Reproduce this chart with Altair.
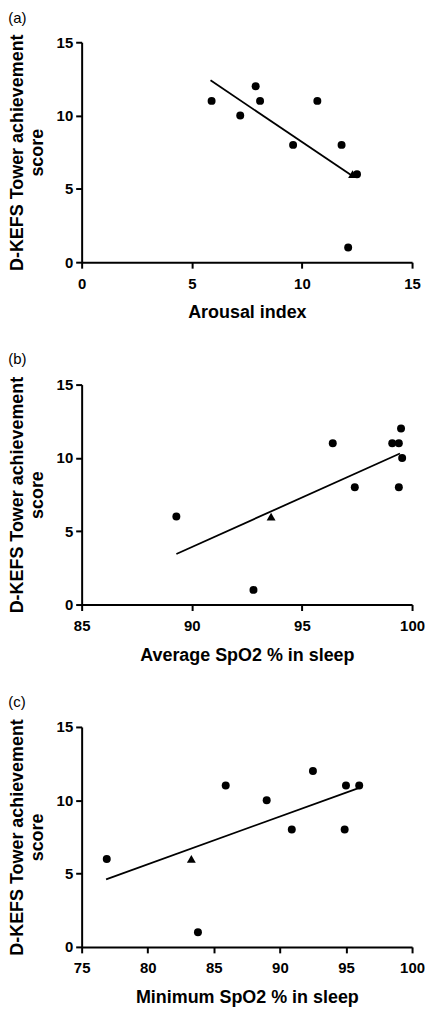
import altair as alt
import pandas as pd

# Panel (a)
a_x = [5.9, 7.2, 7.9, 8.1, 9.6, 10.7, 11.8, 12.5, 12.1]
a_y = [11, 10, 12, 11, 8, 11, 8, 6, 1]
a_tri_x = [12.3]
a_tri_y = [6]
a_fit_x = [5.85, 12.33]
a_fit_y = [12.4, 5.85]

# Panel (b)
b_x = [89.3, 92.8, 96.4, 97.4, 99.1, 99.4, 99.5, 99.55, 99.4]
b_y = [6, 1, 11, 8, 11, 11, 12, 10, 8]
b_tri_x = [93.6]
b_tri_y = [6]
b_fit_x = [89.3, 99.45]
b_fit_y = [3.45, 10.3]

# Panel (c)
c_x = [76.9, 83.8, 85.9, 89.0, 90.9, 92.5, 95.0, 94.9, 96.0]
c_y = [6, 1, 11, 10, 8, 12, 11, 8, 11]
c_tri_x = [83.3]
c_tri_y = [6]
c_fit_x = [76.85, 96.0]
c_fit_y = [4.6, 10.85]

y_ticks = [0, 5, 10, 15]
FONT = "Liberation Sans"
Y_TITLE = ["D-KEFS Tower achievement", "score"]


def panel(label, xs, ys, tx, ty, fx, fy, xdom, xticks, xtitle, toff):
    pts = pd.DataFrame({"x": xs, "y": ys})
    tri = pd.DataFrame({"x": tx, "y": ty})
    fit = pd.DataFrame({"x": fx, "y": fy})
    xsc = alt.Scale(domain=xdom, nice=False, zero=False)
    ysc = alt.Scale(domain=[0, 15], nice=False)
    xax = alt.Axis(values=xticks, title=xtitle, grid=False, labelPadding=8, titlePadding=13)
    yax = alt.Axis(values=y_ticks, title=Y_TITLE, grid=False, labelPadding=3, titlePadding=10)
    base_x = alt.X("x:Q", scale=xsc, axis=xax)
    base_y = alt.Y("y:Q", scale=ysc, axis=yax)
    p = alt.Chart(pts).mark_point(filled=True, shape="circle", size=64, color="black", opacity=1).encode(x=base_x, y=base_y)
    t = alt.Chart(tri).mark_point(filled=True, shape="triangle-up", size=80, color="black", opacity=1).encode(x=base_x, y=base_y)
    l = alt.Chart(fit).mark_line(color="black", strokeWidth=1.8).encode(x=base_x, y=base_y)
    return alt.layer(l, p, t).properties(
        width=332, height=221,
        title=alt.TitleParams(text=label, anchor="start", dx=0, fontSize=15,
                              fontWeight="normal", font=FONT, color="black", offset=toff),
    )


pa = panel("(a)", a_x, a_y, a_tri_x, a_tri_y, a_fit_x, a_fit_y, [0, 15], [0, 5, 10, 15], "Arousal index", 8)
pb = panel("(b)", b_x, b_y, b_tri_x, b_tri_y, b_fit_x, b_fit_y, [85, 100], [85, 90, 95, 100], "Average SpO2 % in sleep", 9)
pc = panel("(c)", c_x, c_y, c_tri_x, c_tri_y, c_fit_x, c_fit_y, [75, 100], [75, 80, 85, 90, 95, 100], "Minimum SpO2 % in sleep", 9)

chart = alt.vconcat(pa, pb, pc, spacing=30).properties(padding=0).configure_view(
    stroke=None
).configure_axis(
    domainColor="black", domainWidth=2, tickColor="black", tickWidth=2, tickSize=6,
    labelFont=FONT, labelFontSize=15, labelFontWeight="bold", labelColor="black",
    titleFont=FONT, titleFontSize=18, titleFontWeight="bold", titleColor="black",
    labelFlush=False, labelOverlap=False,
)

chart.save("out.html", embed_options={"renderer": "svg", "actions": False})
